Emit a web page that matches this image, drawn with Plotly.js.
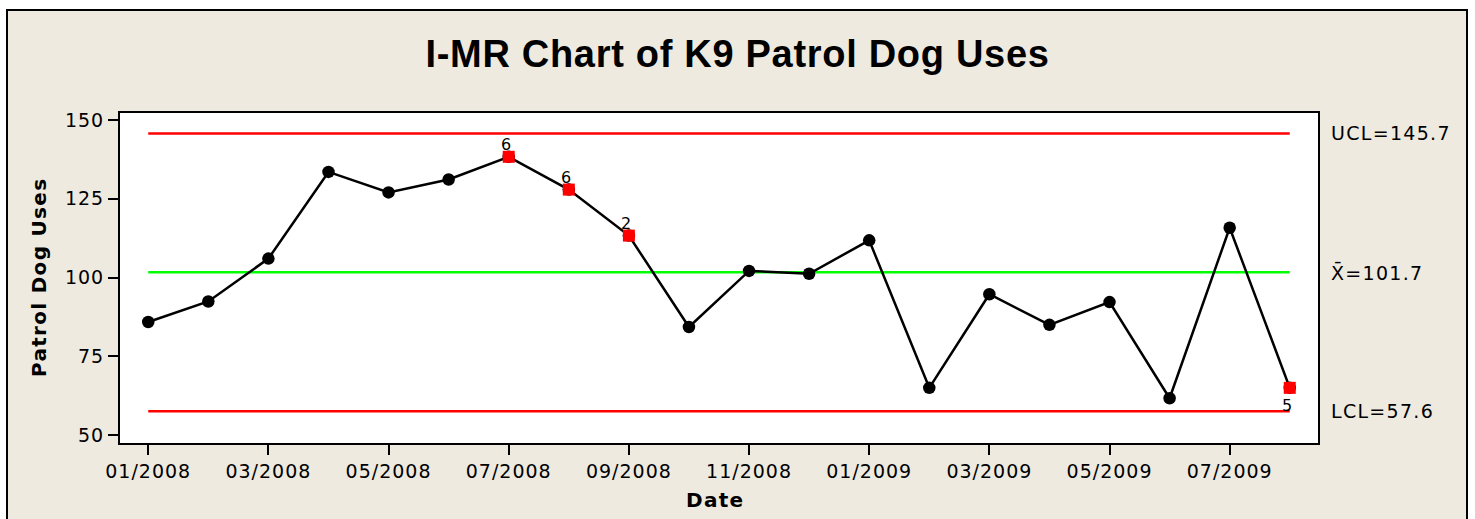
<!DOCTYPE html>
<html>
<head>
<meta charset="utf-8">
<script src="https://cdn.plot.ly/plotly-3.0.1.min.js"></script>
<style>
  html, body { margin: 0; padding: 0; background: #ffffff; width: 1475px; height: 519px; overflow: hidden; }
  #frame { position: absolute; left: 6px; top: 9px; width: 1458px; height: 520px; background: #EEEAE0; border: 2px solid #000; }
  #chart { position: absolute; left: 0; top: 0; width: 1475px; height: 519px; }
  .xtick text, .ytick text { letter-spacing: 1px; }
  text.annotation-text { letter-spacing: 1.3px; }
  .gtitle { letter-spacing: 0.7px; }
</style>
</head>
<body>
<div id="frame"></div>
<div id="chart"></div>
<script>
// Data
const months = ["01/2008","02/2008","03/2008","04/2008","05/2008","06/2008","07/2008","08/2008","09/2008","10/2008",
                "11/2008","12/2008","01/2009","02/2009","03/2009","04/2009","05/2009","06/2009","07/2009","08/2009"];
const uses = [85.9, 92.4, 106.0, 133.5, 127.0, 131.1, 138.3, 127.9, 113.3, 84.3,
              102.1, 101.2, 111.8, 65.0, 94.7, 85.0, 92.2, 61.7, 115.8, 65.0];
const flaggedIdx = [6, 7, 8, 19];
const flaggedTests = ["6", "6", "2", "5"];
const UCL = 145.7, CL = 101.7, LCL = 57.6;
const tickMonths = ["01/2008","03/2008","05/2008","07/2008","09/2008","11/2008","01/2009","03/2009","05/2009","07/2009"];
const yTicks = [50, 75, 100, 125, 150];

const idx = months.map((m, i) => i);
const tickIdx = tickMonths.map(m => months.indexOf(m));
const last = months.length - 1;

const traces = [
  {x: [0, last], y: [UCL, UCL], mode: 'lines', line: {color: '#ff0000', width: 2.5}, hoverinfo: 'skip'},
  {x: [0, last], y: [CL, CL], mode: 'lines', line: {color: '#00ff00', width: 2.5}, hoverinfo: 'skip'},
  {x: [0, last], y: [LCL, LCL], mode: 'lines', line: {color: '#ff0000', width: 2.5}, hoverinfo: 'skip'},
  {x: idx, y: uses, mode: 'lines+markers', line: {color: '#000', width: 2.5},
   marker: {symbol: 'circle', size: 12.5, color: '#000'}},
  {x: flaggedIdx, y: flaggedIdx.map(i => uses[i]), mode: 'markers',
   marker: {symbol: 'square', size: 12, color: '#ff0000'}}
];

const tickFont = {family: 'DejaVu Sans', size: 19, color: '#000'};
const annotations = [];
flaggedIdx.forEach((i, k) => {
  const below = uses[i] < CL;
  annotations.push({x: i, y: uses[i], xref: 'x', yref: 'y', text: flaggedTests[k], showarrow: false,
    xanchor: 'center', yanchor: 'middle', xshift: -2, yshift: below ? -18 : 12,
    font: {family: 'DejaVu Sans', size: 16, color: '#000'}});
});
[["UCL=" + UCL.toFixed(1), UCL], ["X\u0304=" + CL.toFixed(1), CL], ["LCL=" + LCL.toFixed(1), LCL]].forEach(([t, v]) => {
  annotations.push({x: 1, y: v, xref: 'paper', yref: 'y', text: t, showarrow: false,
    xanchor: 'left', yanchor: 'middle', xshift: 11, font: tickFont});
});
annotations.push({x: 0, y: 0.5, xref: 'paper', yref: 'paper', text: 'Patrol Dog Uses', textangle: -90,
  showarrow: false, xanchor: 'center', yanchor: 'middle', xshift: -81,
  font: {family: 'DejaVu Sans', size: 20, color: '#000', weight: 'bold'}});
annotations.push({x: 0.5, y: 0, xref: 'paper', yref: 'paper', text: 'Date',
  showarrow: false, xanchor: 'center', yanchor: 'middle', xshift: -4, yshift: -57,
  font: {family: 'DejaVu Sans', size: 20, color: '#000', weight: 'bold'}});

const layout = {
  width: 1475, height: 519,
  margin: {l: 120, r: 157, t: 113, b: 76},
  paper_bgcolor: 'rgba(0,0,0,0)', plot_bgcolor: '#ffffff',
  showlegend: false,
  title: {text: 'I-MR Chart of K9 Patrol Dog Uses', x: 0.5, xref: 'container', xanchor: 'center',
          y: 1 - 54 / 519, yref: 'container', yanchor: 'middle',
          font: {family: 'Liberation Sans', size: 38, color: '#000', weight: 'bold'}},
  xaxis: {range: [-0.47, 19.47], tickmode: 'array', tickvals: tickIdx, ticktext: tickMonths,
          showgrid: false, zeroline: false, showline: true, mirror: true, linecolor: '#000', linewidth: 2,
          ticks: 'outside', ticklen: 10, tickwidth: 2, tickcolor: '#000', tickfont: tickFont},
  yaxis: {range: [47.5, 152.2], tickmode: 'array', tickvals: yTicks,
          showgrid: false, zeroline: false, showline: true, mirror: true, linecolor: '#000', linewidth: 2,
          ticks: 'outside', ticklen: 10, tickwidth: 2, tickcolor: '#000', tickfont: tickFont},
  annotations: annotations
};

Plotly.newPlot('chart', traces, layout, {displayModeBar: false, staticPlot: true});
</script>
</body>
</html>
